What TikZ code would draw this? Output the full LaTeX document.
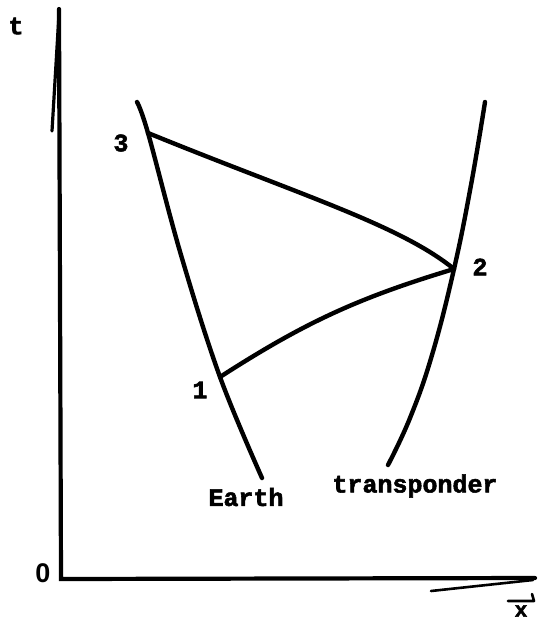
\documentclass[tikz,border=0pt]{standalone}
\usepackage{fontspec}
\newfontfamily\tw[BoldFeatures={FakeBold=2.2}]{Liberation Mono}
\newfontfamily\zf{Liberation Sans}
\tikzset{
  ink/.style={line width=4.4pt, line cap=round, line join=round, black},
  axis/.style={line width=4.2pt, line cap=round, line join=miter, black},
  lbl/.style={font=\tw\bfseries\fontsize{25}{25}\selectfont, inner sep=0pt, text=black},
  zlbl/.style={font=\zf\bfseries\fontsize{27}{27}\selectfont, inner sep=0pt, text=black}
}
\begin{document}
\begin{tikzpicture}[x=1pt,y=-1pt]
\useasboundingbox (0,0) rectangle (541,623);
% axes
\coordinate (ytop) at (59,9);
\coordinate (orig) at (61,579);
\coordinate (xend) at (535,578);
\draw[axis] (ytop) -- (orig) -- (xend);
\coordinate (ydA) at (59,14);
\coordinate (ydB) at (52,131);
\draw[line width=3.2pt, line cap=round] (ydA) -- (ydB);
\coordinate (xdA) at (431,591);
\coordinate (xdB) at (533,580);
\draw[line width=2.6pt, line cap=round] (xdA) -- (xdB);
% event points
\coordinate (p3) at (148,133);
\coordinate (p2) at (454,269);
\coordinate (p1) at (220,377);
% world lines
\draw[ink] plot[smooth, tension=0.6] coordinates {(137,102) (p3) (181,255) (p1) (262,478)};
\draw[ink] plot[smooth, tension=0.7] coordinates {(485,102) (471,185) (p2) (432,355) (410,418) (388,465)};
% light signals
\draw[ink] (p3) .. controls (300,195) and (400,225) .. (p2);
\draw[ink] (p1) to[bend left=8] (p2);
% labels
\node[lbl] (tl) at (16,26) {t};
\node[zlbl] (zl) at (43,573) {0};
\node[lbl] (l3) at (121,143) {3};
\node[lbl] (l2) at (480,267) {2};
\node[lbl] (l1) at (200,390) {1};
\node[lbl] (earth) at (246,497) {Earth};
\node[lbl] (tr) at (415,486) {transponder};
\node[lbl, font=\tw\bfseries\fontsize{21}{21}\selectfont] (xl) at (521,611) {x};
\coordinate (ha) at (508,601);
\coordinate (hb) at (534,601);
\coordinate (hc) at (532,594);
\draw[line width=2.6pt, line cap=round, line join=round] (ha) -- (hb) -- (hc);
\end{tikzpicture}
\end{document}
